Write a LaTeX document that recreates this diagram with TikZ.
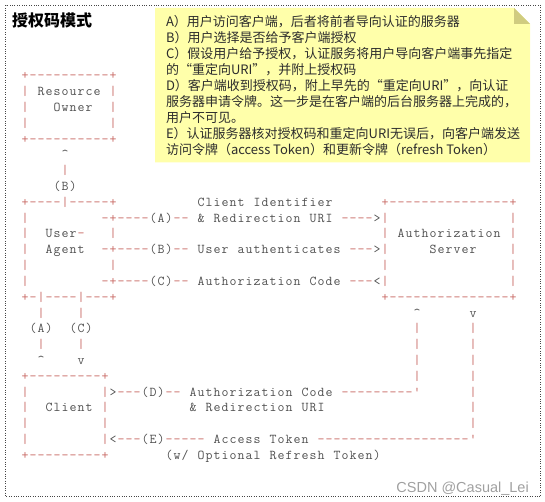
\documentclass[tikz,border=0pt]{standalone}
\usepackage{fontspec}
\newfontfamily\cjk{Noto Sans CJK SC}
\newfontfamily\wmfont{Liberation Sans}
\definecolor{asred}{RGB}{200,105,100}
\definecolor{asgray}{RGB}{80,80,80}
\definecolor{noteyellow}{RGB}{255,255,170}
\definecolor{notefold}{RGB}{208,204,128}
\definecolor{notetext}{RGB}{45,45,45}
\definecolor{framegray}{RGB}{70,70,70}
\definecolor{wmgray}{RGB}{160,160,160}

\ExplSyntaxOn
\cs_new_protected:Npn \asc_char:n #1
 {
  \str_case:nnF {#1}
   {
    {+} { \makebox[8pt]{\color{asred}+} }
    {-} { \makebox[8pt]{\color{asred}-} }
    {|} { \makebox[8pt]{\color{asred}|} }
    {'} { \makebox[8pt]{\color{asred}'} }
   }
   { \makebox[8pt]{#1} }
 }
\NewDocumentCommand \asctext { m } { \str_map_inline:nn {#1} { \asc_char:n {##1} } }
\ExplSyntaxOff

\tikzset{
  asc/.style={anchor=base west, inner sep=0pt, outer sep=0pt,
    font=\fontsize{13.5}{15}\ttfamily, text=asgray},
  noteline/.style={anchor=base west, inner sep=0pt, outer sep=0pt,
    font=\cjk\fontsize{13}{16}\selectfont, text=notetext},
}
\newcommand\aseg[3]{\node[asc] (s-#1-#2) at ({21+8*#2},{80+15.8*#1}) {\asctext{#3}};}
\newcommand\nline[2]{\node[noteline] (n#1) at (166,{26.2+16.1*(#1-1)}) {#2};}

\begin{document}
\begin{tikzpicture}[x=1pt,y=-1pt]
\useasboundingbox (0,0) rectangle (545,502);
% outer dotted frame
\draw[framegray, line width=0.8pt, dash pattern=on 0.8pt off 1.6pt] (5.5,5.5) rectangle (540.5,496.5);
% title
\node[anchor=base west, inner sep=0pt, font=\cjk\bfseries\fontsize{16}{18}\selectfont] (title) at (12,27) {授权码模式};
% note
\fill[noteyellow] (155,8) -- (514,8) -- (530,24) -- (530,162.5) -- (155,162.5) -- cycle;
\fill[notefold] (514,8) -- (514,24) -- (530,24) -- cycle;
\nline{1}{A）用户访问客户端，后者将前者导向认证的服务器}
\nline{2}{B）用户选择是否给予客户端授权}
\nline{3}{C）假设用户给予授权，认证服务将用户导向客户端事先指定}
\nline{4}{的“重定向URI”，并附上授权码}
\nline{5}{D）客户端收到授权码，附上早先的“重定向URI”，向认证}
\nline{6}{服务器申请令牌。这一步是在客户端的后台服务器上完成的，}
\nline{7}{用户不可见。}
\nline{8}{E）认证服务器核对授权码和重定向URI无误后，向客户端发送}
\nline{9}{访问令牌（access Token）和更新令牌（refresh Token）}
% ascii diagram
\aseg{0}{0}{+----------+}
\aseg{1}{0}{| Resource |}
\aseg{2}{0}{|}\aseg{2}{4}{Owner}\aseg{2}{11}{|}
\aseg{3}{0}{|}\aseg{3}{11}{|}
\aseg{4}{0}{+----------+}
\aseg{5}{5}{^}
\aseg{6}{5}{|}
\aseg{7}{4}{(B)}
\aseg{8}{0}{+----|-----+}\aseg{8}{22}{Client Identifier}\aseg{8}{45}{+---------------+}
\aseg{9}{0}{|}\aseg{9}{10}{-+----(A)-- & Redirection URI ---->|}\aseg{9}{61}{|}
\aseg{10}{0}{|}\aseg{10}{3}{User-}\aseg{10}{11}{|}\aseg{10}{45}{| Authorization |}
\aseg{11}{0}{|}\aseg{11}{3}{Agent}\aseg{11}{10}{-+----(B)-- User authenticates --->|}\aseg{11}{51}{Server}\aseg{11}{61}{|}
\aseg{12}{0}{|}\aseg{12}{11}{|}\aseg{12}{45}{|}\aseg{12}{61}{|}
\aseg{13}{0}{|}\aseg{13}{10}{-+----(C)-- Authorization Code ---<|}\aseg{13}{61}{|}
\aseg{14}{0}{+-|----|---+}\aseg{14}{45}{+---------------+}
\aseg{15}{2}{|}\aseg{15}{7}{|}\aseg{15}{49}{^}\aseg{15}{56}{v}
\aseg{16}{1}{(A)}\aseg{16}{6}{(C)}\aseg{16}{49}{|}\aseg{16}{56}{|}
\aseg{17}{2}{|}\aseg{17}{7}{|}\aseg{17}{49}{|}\aseg{17}{56}{|}
\aseg{18}{2}{^}\aseg{18}{7}{v}\aseg{18}{49}{|}\aseg{18}{56}{|}
\aseg{19}{0}{+---------+}\aseg{19}{49}{|}\aseg{19}{56}{|}
\aseg{20}{0}{|}\aseg{20}{10}{|>---(D)-- Authorization Code ---------'}\aseg{20}{56}{|}
\aseg{21}{0}{|}\aseg{21}{3}{Client |}\aseg{21}{21}{& Redirection URI}\aseg{21}{56}{|}
\aseg{22}{0}{|}\aseg{22}{10}{|}\aseg{22}{56}{|}
\aseg{23}{0}{|}\aseg{23}{10}{|<---(E)----- Access Token -------------------'}
\aseg{24}{0}{+---------+}\aseg{24}{18}{(w/ Optional Refresh Token)}
% watermark
\node[anchor=base east, inner sep=0pt, font=\wmfont\fontsize{14.5}{16}\selectfont, text=wmgray] (wm) at (529,492) {CSDN @Casual\_Lei};
\end{tikzpicture}
\end{document}
